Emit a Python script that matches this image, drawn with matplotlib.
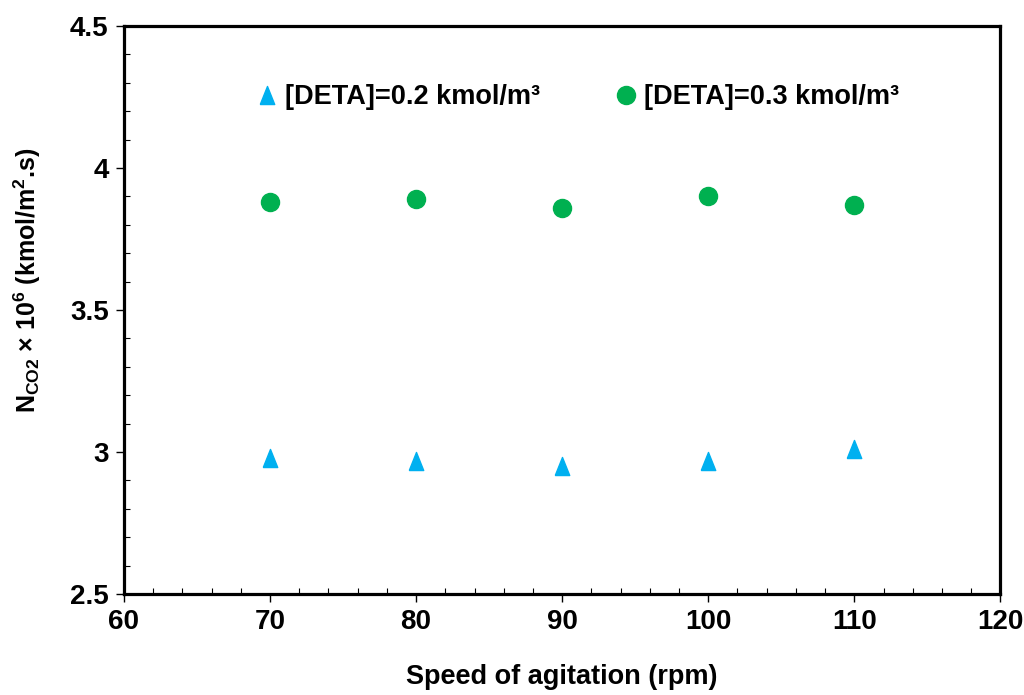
import matplotlib
matplotlib.use("Agg")
import matplotlib.pyplot as plt
from matplotlib.ticker import MultipleLocator

plt.rcParams['font.family'] = ['Liberation Sans', 'DejaVu Sans']
plt.rcParams['font.weight'] = 'bold'
plt.rcParams['mathtext.default'] = 'regular'

speed = [70, 80, 90, 100, 110]
flux_02 = [2.98, 2.97, 2.95, 2.97, 3.01]
flux_03 = [3.88, 3.89, 3.86, 3.90, 3.87]

# slim triangle, like the original
tri = [(-0.4, -0.5), (0.4, -0.5), (0.0, 0.5), (-0.4, -0.5)]

fig = plt.figure(figsize=(10.24, 6.95), dpi=100)
ax = fig.add_axes([0.121, 0.1453, 0.856, 0.8173])

ax.plot(speed, flux_02, linestyle='none', marker=tri, markersize=13,
        color='#00b0f0', label='[DETA]=0.2 kmol/m³')
ax.plot(speed, flux_03, linestyle='none', marker='o', markersize=13,
        color='#00b050', label='[DETA]=0.3 kmol/m³')

ax.set_xlim(60, 120)
ax.set_ylim(2.5, 4.5)
ax.xaxis.set_major_locator(MultipleLocator(10))
ax.xaxis.set_minor_locator(MultipleLocator(2))
ax.yaxis.set_minor_locator(MultipleLocator(0.1))
ax.set_yticks([2.5, 3, 3.5, 4, 4.5])
ax.set_yticklabels(['2.5', '3', '3.5', '4', '4.5'])

for s in ax.spines.values():
    s.set_linewidth(2.3)
ax.tick_params(which='major', direction='out', length=6, width=1, labelsize=20, pad=5)
ax.tick_params(which='minor', direction='in', length=4, width=0.8)

ax.set_xlabel('Speed of agitation (rpm)', fontsize=19.5, fontweight='bold', labelpad=21)
ax.set_ylabel('N$_{CO2}$ × 10$^{6}$ (kmol/m$^{2}$.s)', fontsize=18, fontweight='bold')
ax.yaxis.set_label_coords(-0.092, 0.553)

ax.legend(loc='upper left', bbox_to_anchor=(0.12, 0.94), ncol=2, frameon=False,
          fontsize=19.5, handletextpad=0.15, columnspacing=2.7,
          handlelength=1.0)

plt.savefig('out.png', dpi=100)
